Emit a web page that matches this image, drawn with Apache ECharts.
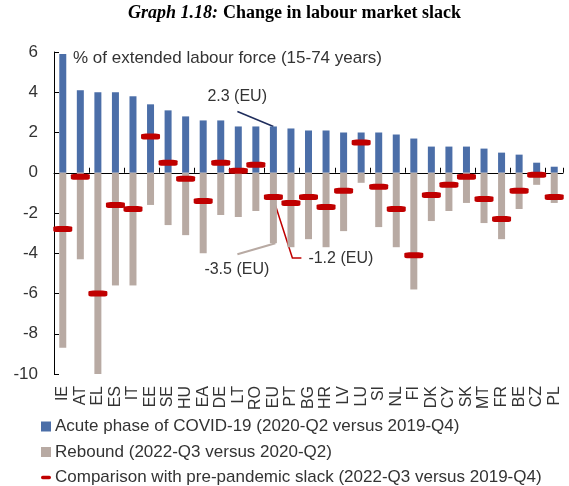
<!DOCTYPE html>
<html>
<head>
<meta charset="utf-8">
<script src="https://cdn.jsdelivr.net/npm/echarts@6/dist/echarts.min.js"></script>
<style>
html,body{margin:0;padding:0;background:#fff;}
#chart{width:569px;height:486px;}
</style>
</head>
<body>
<div id="chart"></div>
<script>
var categories = ['IE','AT','EL','ES','IT','EE','SE','HU','EA','DE','LT','RO','EU','PT','BG','HR','LV','LU','SI','NL','FI','DK','CY','SK','MT','FR','BE','CZ','PL'];
var acute = [5.9,4.1,4.0,4.0,3.8,3.4,3.1,2.8,2.6,2.6,2.3,2.3,2.3,2.2,2.1,2.1,2.0,2.0,2.0,1.9,1.7,1.3,1.3,1.3,1.2,1.0,0.9,0.5,0.3];
var rebound = [-8.7,-4.3,-10.0,-5.6,-5.6,-1.6,-2.6,-3.1,-4.0,-2.1,-2.2,-1.9,-3.5,-3.7,-3.3,-3.7,-2.9,-0.5,-2.7,-3.7,-5.8,-2.4,-1.9,-1.5,-2.5,-3.3,-1.8,-0.6,-1.5];
var comparison = [-2.8,-0.2,-6.0,-1.6,-1.8,1.8,0.5,-0.3,-1.4,0.5,0.1,0.4,-1.2,-1.5,-1.2,-1.7,-0.9,1.5,-0.7,-1.8,-4.1,-1.1,-0.6,-0.2,-1.3,-2.3,-0.9,-0.1,-1.2];
var yTicks = [-10,-8,-6,-4,-2,0,2,4,6];
var seriesNames = ['Acute phase of COVID-19 (2020-Q2 versus 2019-Q4)','Rebound (2022-Q3 versus 2020-Q2)','Comparison with pre-pandemic slack (2022-Q3 versus 2019-Q4)'];
var euCat = 'EU';
var euIdx = categories.indexOf(euCat);

var FONT = 'Liberation Sans';
var BLUE = '#4B6EA8', BEIGE = '#B8AAA3', RED = '#C00000', TXT = '#333333';

var chart = echarts.init(document.getElementById('chart'), null, {renderer:'canvas'});
var option = {
  animation:false,
  backgroundColor:'#fff',
  title:{
    text:'{i|Graph 1.18:} {b|Change in labour market slack}',
    left:128, top:4, padding:0,
    textStyle:{rich:{
      i:{fontFamily:'Liberation Serif',fontStyle:'italic',fontSize:18,color:'#000'},
      b:{fontFamily:'Liberation Serif',fontWeight:'bold',fontSize:18,color:'#000'}
    }}
  },
  grid:{left:54,right:6,top:52,bottom:112,containLabel:false},
  legend:{
    orient:'vertical', left:41, top:418, padding:0, itemWidth:10, itemHeight:10, itemGap:8.5,
    textStyle:{fontFamily:FONT,fontSize:17,color:TXT,lineHeight:17,padding:[0,0,0,-1]},
    data:[
      {name:seriesNames[0],icon:'rect'},
      {name:seriesNames[1],icon:'rect'},
      {name:seriesNames[2],icon:'path://M2,0 L10,0 A2,2 0 0 1 10,4 L2,4 A2,2 0 0 1 2,0 Z'}
    ]
  },
  xAxis:[
    {type:'category',data:categories,position:'bottom',
     axisLine:{show:false,onZero:false},axisTick:{show:false},
     axisLabel:{rotate:90,margin:12,fontFamily:FONT,fontSize:16,color:TXT,interval:0}},
    {type:'category',data:categories,position:'top',
     axisLine:{show:true,onZero:true,lineStyle:{color:'#000',width:1}},
     axisTick:{show:true,inside:false,length:5,lineStyle:{color:'#000'}},
     axisLabel:{show:false}}
  ],
  yAxis:{type:'value',min:yTicks[0],max:yTicks[yTicks.length-1],interval:2,
    axisLine:{show:true,lineStyle:{color:'#000'}},
    axisTick:{show:true,inside:true,length:5,lineStyle:{color:'#000'}},
    splitLine:{show:false},
    axisLabel:{margin:16,fontFamily:FONT,fontSize:17,color:TXT}},
  series:[
    {name:seriesNames[0],type:'bar',data:acute,barWidth:7,barGap:'-100%',itemStyle:{color:BLUE},z:2},
    {name:seriesNames[1],type:'bar',data:rebound,barWidth:7,barGap:'-100%',itemStyle:{color:BEIGE},z:2},
    {name:seriesNames[2],type:'scatter',data:comparison,symbol:'roundRect',symbolSize:[19,6],itemStyle:{color:RED,opacity:1},z:5}
  ]
};
chart.setOption(option);

function px(i,v){return chart.convertToPixel({xAxisIndex:0,yAxisIndex:0},[i,v]);}
var pTop = px(euIdx, acute[euIdx]);
var pBot = px(euIdx, rebound[euIdx]);
var pMid = px(euIdx, comparison[euIdx]);

chart.setOption({graphic:[
  {type:'text',left:73,top:50,style:{text:'% of extended labour force (15-74 years)',font:'17px '+FONT,fill:TXT}},
  {type:'line',shape:{x1:pTop[0]-36,y1:pTop[1]-15,x2:pTop[0],y2:pTop[1]},style:{stroke:'#1F2D5C',lineWidth:1.5}},
  {type:'text',left:pTop[0]-66,top:pTop[1]-38,style:{text:'2.3 (EU)',font:'16px '+FONT,fill:TXT}},
  {type:'line',shape:{x1:pBot[0]+2,y1:pBot[1],x2:pBot[0]-36,y2:pBot[1]+11},style:{stroke:BEIGE,lineWidth:2}},
  {type:'text',left:pBot[0]-69,top:pBot[1]+18,style:{text:'-3.5 (EU)',font:'16px '+FONT,fill:TXT}},
  {type:'polyline',shape:{points:[[pMid[0],pMid[1]+2],[pMid[0]+19,pMid[1]+61],[pMid[0]+28,pMid[1]+61]]},style:{stroke:RED,lineWidth:1.5,fill:null}},
  {type:'text',left:pMid[0]+35,top:pMid[1]+54,style:{text:'-1.2 (EU)',font:'16px '+FONT,fill:TXT}}
]});
</script>
</body>
</html>
